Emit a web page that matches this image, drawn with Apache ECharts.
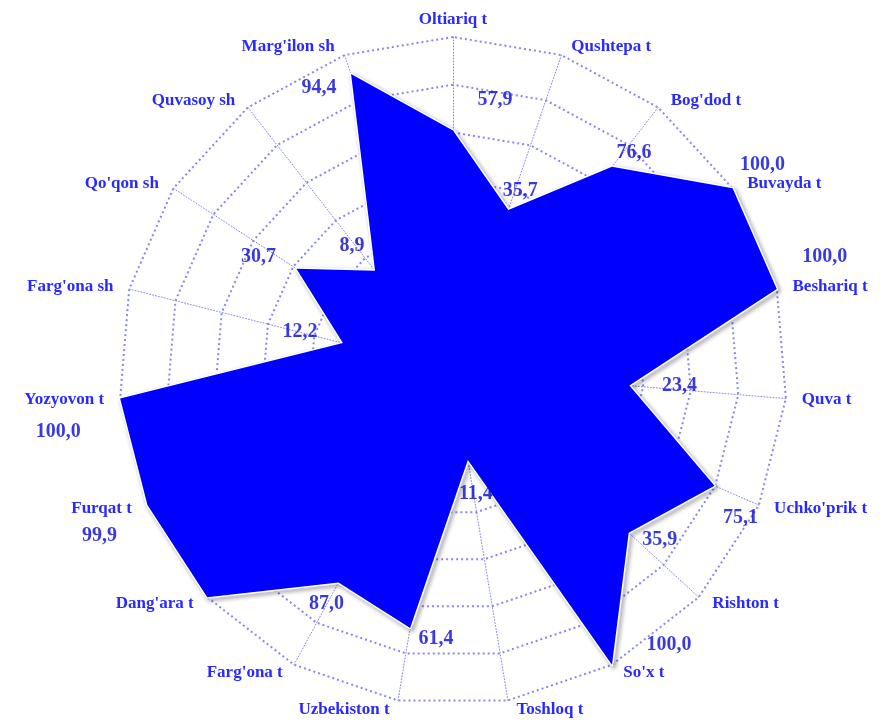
<!DOCTYPE html>
<html>
<head>
<meta charset="utf-8">
<script src="https://cdn.jsdelivr.net/npm/echarts@6/dist/echarts.min.js"></script>
<style>
html,body{margin:0;padding:0;background:#fff;}
#chart{width:891px;height:722px;}
</style>
</head>
<body>
<div id="chart"></div>
<script>
// Category names (clockwise from top)
const categories = ["Oltiariq t","Qushtepa t","Bog'dod t","Buvayda t","Beshariq t","Quva t","Uchko'prik t","Rishton t","So'x t","Toshloq t","Uzbekiston t","Farg'ona t","Dang'ara t","Furqat t","Yozyovon t","Farg'ona sh","Qo'qon sh","Quvasoy sh","Marg'ilon sh"];
// Polygon as drawn (radial position, 0-100 scale)
const drawnValues = [72, 51, 77.5, 100, 100, 53, 85.5, 71.5, 100, 27, 78, 72, 100, 99.9, 100, 34, 56, 38, 94];
// Numbers printed on the chart
const labelValues = [57.9, 35.7, 76.6, 100.0, 100.0, 23.4, 75.1, 35.9, 100.0, 11.4, 61.4, 87.0, null, 99.9, 100.0, 12.2, 30.7, 8.9, 94.4];
const axisMax = 100;
const rings = 7;

// label offsets (style) relative to each vertex, px
const labelOffsets = [[42,-31],[12,-19],[22,-14],[30,-23],[48,-32],[50,0],[26,32],[31,7],[57,-20],[8,34],[26,11],[-12,21],[0,0],[-48,31],[-62,33],[-43,-11],[-38,-12],[-23,-25],[-32,14]];

const center = [453, 371];
const radius = 334;
const gridColor = '#8787ee';
const textColor = '#2a2aff';
const numColor = '#0808d8';
const serif = '"Liberation Serif","DejaVu Serif",serif';

const fmt = v => v.toFixed(1).replace('.', ',');

// ECharts radar runs counter-clockwise: reorder so categories read clockwise
const n = categories.length;
const order = [0];
for (let k = n - 1; k >= 1; k--) order.push(k);

const chart = echarts.init(document.getElementById('chart'));
const labelData = [];
categories.forEach((c, i) => {
  if (labelValues[i] === null) return;
  labelData.push({
    value: [drawnValues[i], i],
    label: { offset: labelOffsets[i], formatter: fmt(labelValues[i]) }
  });
});

chart.setOption({
  backgroundColor: '#fff',
  animation: false,
  radar: {
    center: center,
    radius: radius,
    startAngle: 90,
    shape: 'polygon',
    splitNumber: rings,
    indicator: order.map(i => ({ name: categories[i], min: 0, max: axisMax })),
    axisName: {
      color: textColor,
      fontFamily: serif,
      fontWeight: 'bold',
      fontSize: 17,
      padding: [0, 7, 0, 7]
    },
    nameGap: 9,
    splitArea: { show: false },
    splitLine: { lineStyle: { color: gridColor, width: 2, type: [2, 3] } },
    axisLine: { lineStyle: { color: gridColor, width: 1, type: [1, 2] } },
    axisTick: { show: false },
    axisLabel: { show: false }
  },
  polar: { center: center, radius: radius },
  angleAxis: {
    type: 'value', min: 0, max: n, startAngle: 90, clockwise: true,
    show: false, axisLine: { show: false }, splitLine: { show: false }, axisLabel: { show: false }, axisTick: { show: false }
  },
  radiusAxis: {
    type: 'value', min: 0, max: axisMax, show: false,
    axisLine: { show: false }, splitLine: { show: false }, axisLabel: { show: false }, axisTick: { show: false }
  },
  series: [
    {
      type: 'radar',
      symbol: 'none',
      z: 2,
      lineStyle: {
        color: '#ffffff', width: 3,
        shadowColor: 'rgba(0,0,0,0.45)', shadowBlur: 4, shadowOffsetX: 2, shadowOffsetY: 2
      },
      areaStyle: { color: '#0000ff', opacity: 1 },
      data: [{ value: order.map(i => drawnValues[i]), name: 'values' }]
    },
    {
      type: 'scatter',
      coordinateSystem: 'polar',
      symbolSize: 1,
      zlevel: 1,
      z: 5,
      itemStyle: { color: 'rgba(0,0,0,0)' },
      label: {
        show: true,
        position: 'inside',
        color: numColor,
        fontFamily: serif,
        fontWeight: 'bold',
        fontSize: 20
      },
      data: labelData
    }
  ]
});
</script>
</body>
</html>
